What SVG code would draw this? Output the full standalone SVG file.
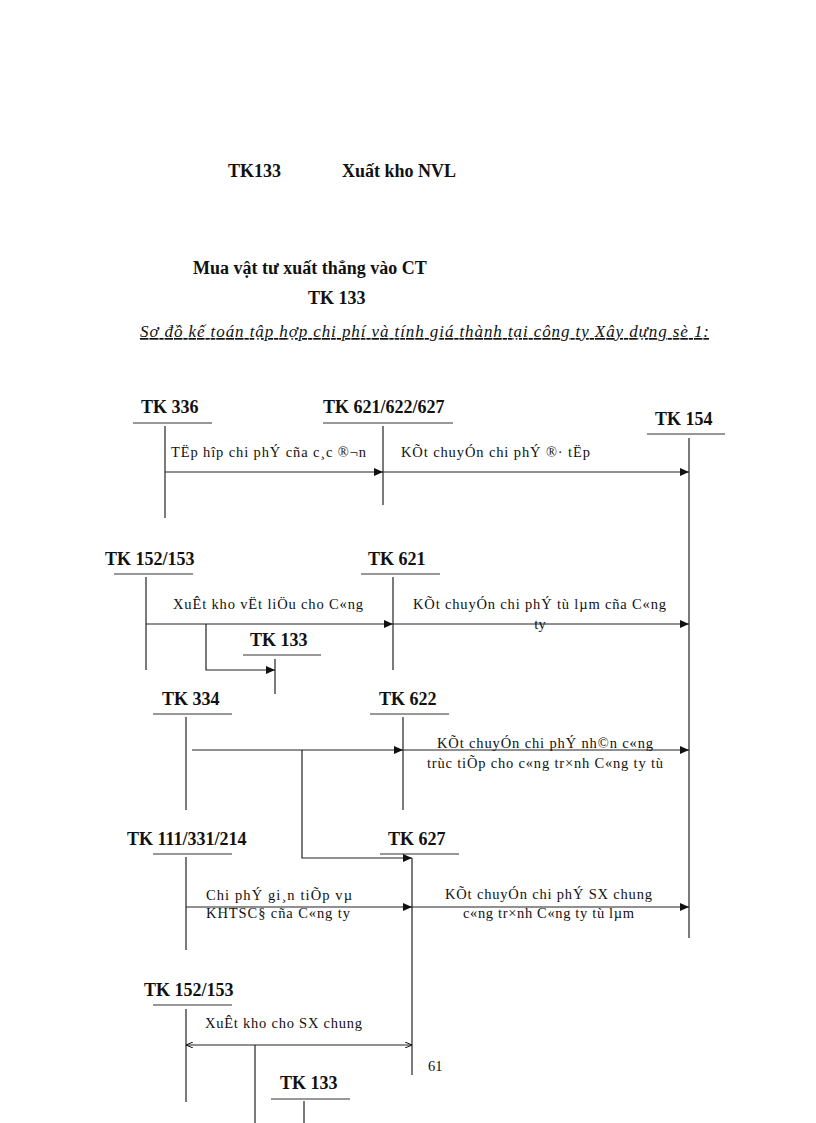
<svg xmlns="http://www.w3.org/2000/svg" width="816" height="1123" viewBox="0 0 816 1123">
<defs>
<style>
.h{font-family:"Liberation Serif",serif;font-size:18px;font-weight:bold;fill:#111}
.t{font-family:"Liberation Serif",serif;font-size:14.5px;fill:#111}
.ti{font-family:"Liberation Serif",serif;font-size:17px;font-style:italic;fill:#111;text-decoration:underline}
.ln{stroke:#222;stroke-width:1.2;fill:none}
.ul{stroke:#333;stroke-width:1.2}
.ar{stroke:#222;stroke-width:1.2;fill:none;marker-end:url(#ah)}
</style>
<marker id="ah" markerUnits="userSpaceOnUse" markerWidth="10" markerHeight="8" refX="9" refY="4" orient="auto"><path d="M0,0 L9,4 L0,8 Z" fill="#111"/></marker>
<marker id="as" markerUnits="userSpaceOnUse" markerWidth="8" markerHeight="6" refX="0" refY="3" orient="auto"><path d="M7,0 L0,3 L7,6" fill="none" stroke="#111" stroke-width="1"/></marker>
<marker id="ae" markerUnits="userSpaceOnUse" markerWidth="8" markerHeight="6" refX="7" refY="3" orient="auto"><path d="M0,0 L7,3 L0,6" fill="none" stroke="#111" stroke-width="1"/></marker>
</defs>
<rect width="816" height="1123" fill="#fff"/>

<g id="header">
<text class="h" x="228" y="177">TK133</text>
<text class="h" x="342" y="177">Xuất kho NVL</text>
<text class="h" x="193" y="274">Mua vật tư xuất thẳng vào CT</text>
<text class="h" x="308" y="304">TK 133</text>
<text class="ti" x="140" y="337" textLength="569" lengthAdjust="spacing">Sơ đồ kế toán tập hợp chi phí và tính giá thành tại công ty Xây dựng sè 1:</text>
</g>

<g id="tk336"><text class="h" x="141" y="413">TK 336</text><line class="ul" x1="133" y1="423" x2="212" y2="423"/><line class="ln" x1="165" y1="426" x2="165" y2="518"/></g>
<g id="tk621-622-627"><text class="h" x="323" y="413">TK 621/622/627</text><line class="ul" x1="323" y1="423" x2="453" y2="423"/><line class="ln" x1="383" y1="426" x2="383" y2="505"/></g>
<g id="tk154"><text class="h" x="655" y="425">TK 154</text><line class="ul" x1="647" y1="434" x2="725" y2="434"/><line class="ln" x1="689" y1="438" x2="689" y2="938"/></g>

<g id="tk152-153a"><text class="h" x="105" y="565">TK 152/153</text><line class="ul" x1="114" y1="574" x2="193" y2="574"/><line class="ln" x1="146" y1="577" x2="146" y2="670"/></g>
<g id="tk621"><text class="h" x="368" y="565">TK 621</text><line class="ul" x1="361" y1="574" x2="440" y2="574"/><line class="ln" x1="393" y1="577" x2="393" y2="670"/></g>
<g id="tk133a"><text class="h" x="250" y="646">TK 133</text><line class="ul" x1="243" y1="655" x2="321" y2="655"/><line class="ln" x1="275" y1="659" x2="275" y2="694"/></g>

<g id="tk334"><text class="h" x="162" y="705">TK 334</text><line class="ul" x1="153" y1="714" x2="232" y2="714"/><line class="ln" x1="186" y1="717" x2="186" y2="810"/></g>
<g id="tk622"><text class="h" x="379" y="705">TK 622</text><line class="ul" x1="370" y1="714" x2="449" y2="714"/><line class="ln" x1="403" y1="717" x2="403" y2="810"/></g>

<g id="tk111-331-214"><text class="h" x="127" y="845">TK 111/331/214</text><line class="ul" x1="153" y1="854" x2="232" y2="854"/><line class="ln" x1="186" y1="857" x2="186" y2="950"/></g>
<g id="tk627"><text class="h" x="388" y="845">TK 627</text><line class="ul" x1="380" y1="854" x2="459" y2="854"/><line class="ln" x1="412" y1="858" x2="412" y2="1075"/></g>

<g id="tk152-153b"><text class="h" x="144" y="996">TK 152/153</text><line class="ul" x1="153" y1="1005" x2="232" y2="1005"/><line class="ln" x1="186" y1="1009" x2="186" y2="1102"/></g>
<g id="tk133b"><text class="h" x="280" y="1089">TK 133</text><line class="ul" x1="271" y1="1099" x2="350" y2="1099"/><line class="ln" x1="304" y1="1101" x2="304" y2="1123"/></g>

<g id="connectors">
<line class="ar" x1="165" y1="472" x2="383" y2="472"/>
<line class="ar" x1="383" y1="472" x2="689" y2="472"/>
<line class="ar" x1="146" y1="624" x2="393" y2="624"/>
<line class="ar" x1="393" y1="624" x2="689" y2="624"/>
<polyline class="ar" points="206,624 206,670 275,670"/>
<line class="ar" x1="192" y1="750" x2="403" y2="750"/>
<line class="ar" x1="403" y1="750" x2="689" y2="750"/>
<polyline class="ar" points="302,750 302,858 412,858"/>
<line class="ar" x1="186" y1="907" x2="412" y2="907"/>
<line class="ar" x1="412" y1="907" x2="689" y2="907"/>
<line class="ln" x1="186" y1="1045" x2="412" y2="1045" marker-start="url(#as)" marker-end="url(#ae)"/>
<line class="ln" x1="255" y1="1045" x2="255" y2="1123"/>
</g>

<g id="labels">
<text class="t" x="171" y="457" textLength="195" lengthAdjust="spacing">TËp hîp chi phÝ cña c¸c ®¬n</text>
<text class="t" x="401" y="457" textLength="189" lengthAdjust="spacing">KÕt chuyÓn  chi phÝ ®· tËp</text>
<text class="t" x="173" y="609" textLength="190" lengthAdjust="spacing">XuÊt kho vËt liÖu  cho C«ng</text>
<text class="t" x="413" y="609" textLength="253" lengthAdjust="spacing">KÕt chuyÓn  chi phÝ tù lµm  cña C«ng</text>
<text class="t" x="540" y="629" text-anchor="middle">ty</text>
<text class="t" x="437" y="748" textLength="216" lengthAdjust="spacing">KÕt chuyÓn  chi phÝ nh©n c«ng</text>
<text class="t" x="427" y="768" textLength="236" lengthAdjust="spacing">trùc tiÕp cho c«ng tr×nh C«ng ty tù</text>
<text class="t" x="206" y="900" textLength="146" lengthAdjust="spacing">Chi phÝ gi¸n  tiÕp vµ</text>
<text class="t" x="206" y="918" textLength="144" lengthAdjust="spacing">KHTSC§ cña C«ng ty</text>
<text class="t" x="445" y="899" textLength="207" lengthAdjust="spacing">KÕt chuyÓn  chi phÝ SX chung</text>
<text class="t" x="463" y="918" textLength="171" lengthAdjust="spacing">c«ng tr×nh  C«ng ty tù lµm</text>
<text class="t" x="205" y="1028" textLength="157" lengthAdjust="spacing">XuÊt kho cho SX chung</text>
<text class="t" x="428" y="1071">61</text>
</g>
</svg>
